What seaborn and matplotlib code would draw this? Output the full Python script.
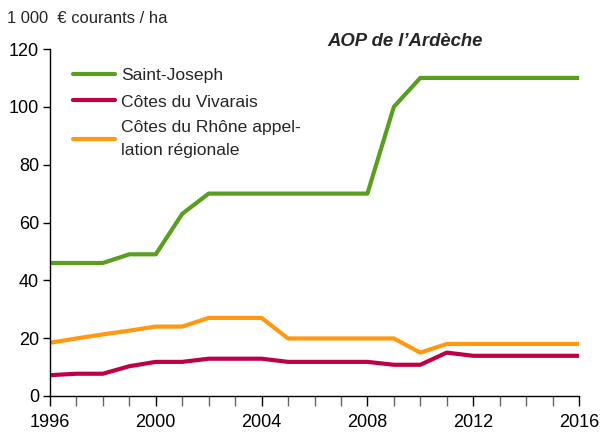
"""AOP de l'Ardèche: prix des terres à vigne, 1996-2016."""

import matplotlib

matplotlib.use("Agg")

import matplotlib.pyplot as plt
import pandas as pd
import seaborn as sns
from matplotlib.lines import Line2D
from matplotlib.ticker import MultipleLocator

YEARS = list(range(1996, 2017))

SAINT_JOSEPH = [46, 46, 46, 49, 49, 63, 70, 70, 70, 70, 70, 70, 70, 100, 110, 110, 110, 110, 110, 110, 110]
VIVARAIS = [7.2, 7.7, 7.7, 10.3, 11.8, 11.8, 12.9, 12.9, 12.9, 11.8, 11.8, 11.8, 11.8, 10.8, 10.8, 15, 13.9, 13.9, 13.9, 13.9, 13.9]
RHONE = [18.4, 19.9, 21.3, 22.6, 24, 24, 27, 27, 27, 19.9, 19.9, 19.9, 19.9, 19.9, 15, 18, 18, 18, 18, 18, 18]

SERIES_NAMES = ["Saint-Joseph", "Côtes du Vivarais", "Côtes du Rhône appel-\nlation régionale"]
COLORS = ["#5A9E1F", "#BE0047", "#FF9912"]

X_TICKS = [1996, 2000, 2004, 2008, 2012, 2016]
Y_TICKS = [0, 20, 40, 60, 80, 100, 120]


def build_frame() -> pd.DataFrame:
    rows = []
    for name, values in zip(SERIES_NAMES, [SAINT_JOSEPH, VIVARAIS, RHONE]):
        for year, value in zip(YEARS, values):
            rows.append({"year": year, "value": value, "series": name})
    return pd.DataFrame(rows)


def main() -> None:
    sns.set_theme(style="ticks")
    plt.rcParams["font.family"] = ["Liberation Sans", "DejaVu Sans"]

    data = build_frame()
    fig = plt.figure(figsize=(6.1, 4.32), dpi=100)
    ax = fig.add_axes([50 / 610, 1 - 396 / 432, 529 / 610, 347 / 432])

    sns.lineplot(
        data=data, x="year", y="value", hue="series",
        palette=dict(zip(SERIES_NAMES, COLORS)), linewidth=3,
        legend=False, ax=ax,
    )

    ax.set_xlim(1996, 2016)
    ax.set_ylim(0, 120)
    ax.set_xticks(X_TICKS)
    ax.xaxis.set_minor_locator(MultipleLocator(1))
    ax.set_yticks(Y_TICKS)
    ax.set_xlabel("")
    ax.set_ylabel("")
    ax.tick_params(axis="both", labelsize=13, colors="black", direction="out")
    ax.tick_params(axis="x", which="both", length=7, width=1, color="#666666", pad=6)
    ax.tick_params(axis="y", length=5, width=1, pad=3)
    ax.tick_params(axis="x", which="major", color="black")
    sns.despine(ax=ax)
    for side in ("left", "bottom"):
        ax.spines[side].set_color("black")
        ax.spines[side].set_linewidth(1)

    handles = [Line2D([0], [0], color=c, lw=3) for c in COLORS]
    legend = ax.legend(
        handles, SERIES_NAMES, loc="upper left", bbox_to_anchor=(0.013, 0.99),
        frameon=False, fontsize=12.6, handlelength=2.4, handletextpad=0.35,
        labelspacing=0.62,
    )
    for text in legend.get_texts():
        text.set_linespacing(1.6)

    fig.text(0.537, 0.905, "AOP de l\u2019Ardèche", fontsize=13.3, fontweight="bold",
             fontstyle="italic", ha="left", va="center")
    fig.text(0.012, 0.958, "1 000  € courants / ha", fontsize=11.9, ha="left", va="center")

    fig.savefig("out.png", dpi=100)
    plt.close(fig)


if __name__ == "__main__":
    main()
